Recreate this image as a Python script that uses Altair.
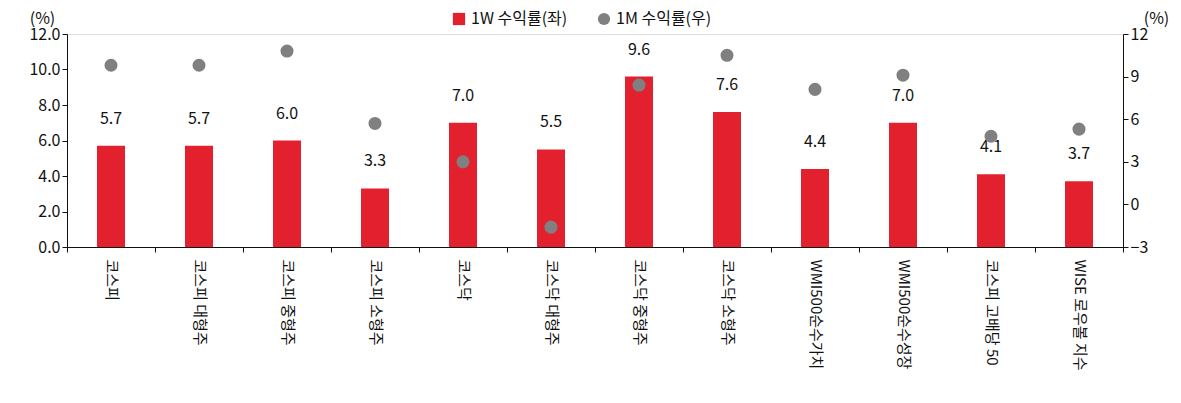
import altair as alt
import pandas as pd

categories = ["코스피", "코스피 대형주", "코스피 중형주", "코스피 소형주", "코스닥", "코스닥 대형주",
              "코스닥 중형주", "코스닥 소형주", "WMI500순수가치", "WMI500순수성장", "코스피 고배당 50", "WISE 로우볼 지수"]
w1_values = [5.7, 5.7, 6.0, 3.3, 7.0, 5.5, 9.6, 7.6, 4.4, 7.0, 4.1, 3.7]
m1_values = [9.8, 9.8, 10.8, 5.7, 3.0, -1.6, 8.4, 10.5, 8.1, 9.1, 4.8, 5.3]
series_names = ["1W 수익률(좌)", "1M 수익률(우)"]
series_colors = ["#E3202E", "#808080"]
left_ticks = [0.0, 2.0, 4.0, 6.0, 8.0, 10.0, 12.0]
right_ticks = [-3, 0, 3, 6, 9, 12]

df_bar = pd.DataFrame({"cat": categories, "val": w1_values, "series": series_names[0]})
df_pt = pd.DataFrame({"cat": categories, "val": m1_values, "series": series_names[1]})

FONT = "Noto Sans CJK KR"
INK = "#111111"

legend = alt.Legend(orient="none", legendX=384, legendY=-23, direction="horizontal", title=None,
                    symbolSize=150, labelFontSize=16, labelColor=INK, columnPadding=28,
                    symbolStrokeWidth=0, labelOffset=4, labelFont=FONT)

color_scale = alt.Scale(domain=series_names, range=series_colors)

x_enc = alt.X("cat:N", sort=categories, title=None,
              scale=alt.Scale(paddingInner=0, paddingOuter=0),
              axis=alt.Axis(labelAngle=90, labelFontSize=15, labelLimit=400, tickBand="extent",
                            domainColor=INK, tickColor=INK, labelColor=INK, labelPadding=7,
                            tickSize=5, labelFont=FONT, labelAlign="left", labelBaseline="middle"))

left_axis = alt.Axis(values=left_ticks, tickCount=7, format=".1f", title="(%)", titleAngle=0,
                     titleX=-25, titleY=-16, titleAlign="center", titleBaseline="middle",
                     titleFontSize=16, titleFontWeight="normal", titleColor=INK,
                     labelFontSize=16, labelColor=INK, domainColor=INK, tickColor=INK,
                     tickSize=5, grid=False, labelFont=FONT, titleFont=FONT,
                     labelOverlap=False, labelFlush=False)

bar = alt.Chart(df_bar).mark_bar(size=28).encode(
    x=x_enc,
    y=alt.Y("val:Q", scale=alt.Scale(domain=[0, 12], nice=False), axis=left_axis),
    color=alt.Color("series:N", scale=color_scale, legend=legend),
)

text = alt.Chart(df_bar).mark_text(dy=-27, fontSize=16, color=INK, font=FONT).encode(
    x=alt.X("cat:N", sort=categories),
    y=alt.Y("val:Q", axis=left_axis),
    text=alt.Text("val:Q", format=".1f"),
)

point = alt.Chart(df_pt).mark_point(filled=True, size=170, opacity=1).encode(
    x=alt.X("cat:N", sort=categories),
    y=alt.Y("val:Q", scale=alt.Scale(domain=[-3, 12], nice=False),
            axis=alt.Axis(orient="right", values=right_ticks, format="d", title="(%)", titleAngle=0,
                          titleX=33, titleY=-16, titleAlign="center", titleBaseline="middle",
                          titleFontSize=16, titleFontWeight="normal", titleColor=INK,
                          labelFontSize=16, labelColor=INK, domainColor=INK, tickColor=INK,
                          tickSize=5, grid=False, labelFont=FONT, titleFont=FONT,
                          labelOverlap=False, labelFlush=False)),
    color=alt.Color("series:N", scale=color_scale, legend=legend),
    shape=alt.Shape("series:N", scale=alt.Scale(domain=series_names, range=["square", "circle"]),
                    legend=legend),
)

chart = alt.layer(alt.layer(bar, text), point).resolve_scale(y="independent").properties(
    width=1056, height=213, padding={"left": 20, "top": 2, "right": 0, "bottom": 0}
).configure_view(stroke=None).configure(font=FONT)

chart.save("out.html", embed_options={"renderer": "svg", "actions": False})
